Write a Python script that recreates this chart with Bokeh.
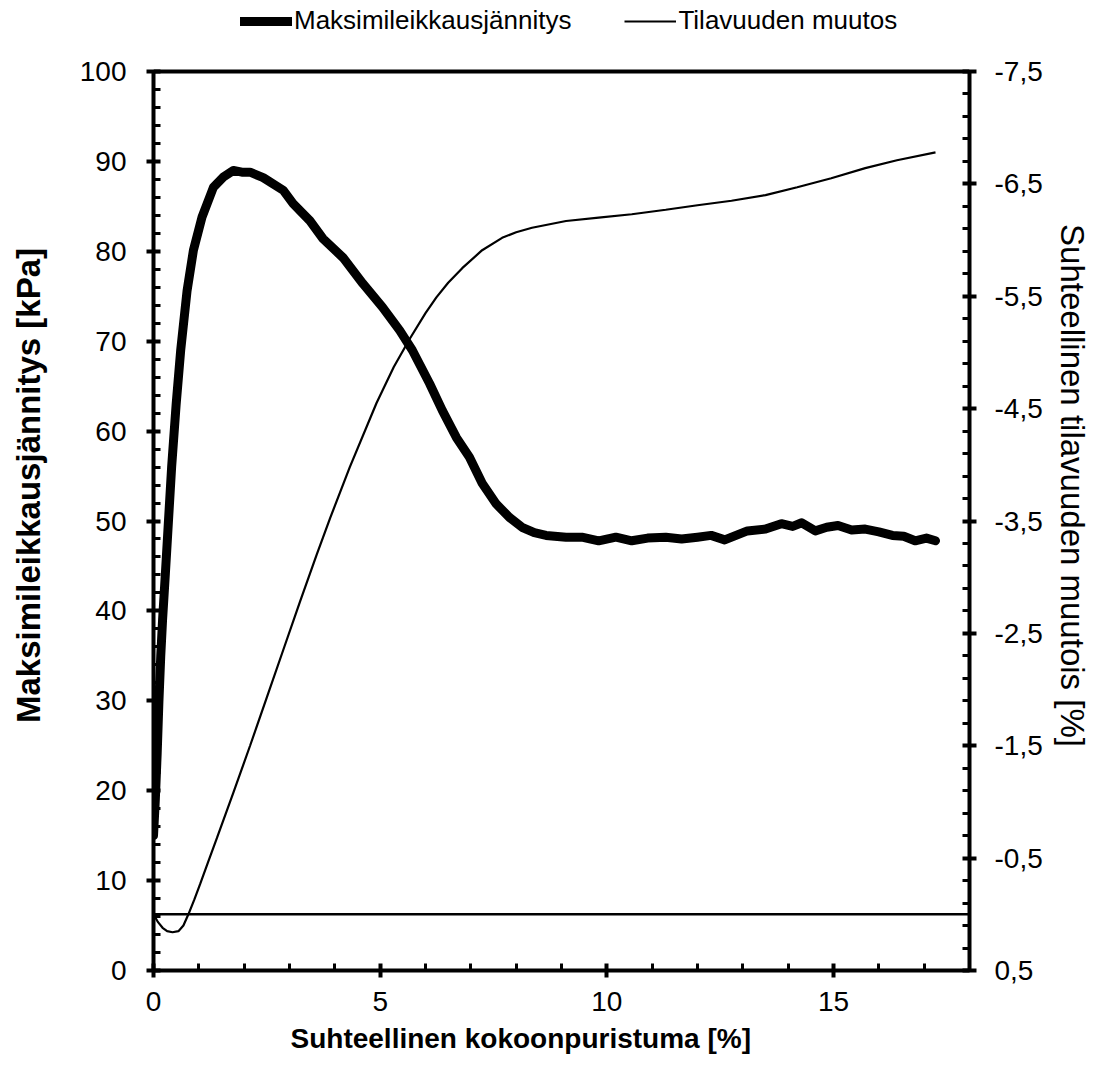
from bokeh.plotting import figure
from bokeh.models import (Range1d, LinearAxis, FixedTicker, CustomJSTickFormatter,
                          Legend, LegendItem, Span, Title)
from bokeh.embed import file_html
from bokeh.resources import INLINE

# ---- data ----
strain_stress = [0.0, 0.04, 0.08, 0.12, 0.16, 0.2, 0.26, 0.33, 0.4, 0.5, 0.6, 0.74, 0.88,
                 1.07, 1.32, 1.55, 1.76, 1.95, 2.13, 2.42, 2.86, 3.08, 3.45, 3.74, 4.18,
                 4.62, 5.05, 5.43, 5.71, 6.09, 6.37, 6.68, 6.97, 7.25, 7.56, 7.85, 8.13,
                 8.4, 8.66, 9.1, 9.45, 9.82, 10.2, 10.55, 10.9, 11.3, 11.65, 12.0, 12.3,
                 12.6, 13.1, 13.5, 13.85, 14.1, 14.3, 14.6, 14.85, 15.1, 15.4, 15.7, 16.0,
                 16.3, 16.55, 16.8, 17.05, 17.25]
stress = [15, 19, 24, 30, 35, 39, 44, 50, 56, 63, 69, 75.6, 80.1,
          83.8, 87.1, 88.3, 89.0, 88.8, 88.8, 88.2, 86.8, 85.3, 83.4, 81.4, 79.3,
          76.4, 73.8, 71.2, 69.0, 65.3, 62.3, 59.3, 57.1, 54.2, 51.9, 50.4, 49.3,
          48.7, 48.4, 48.2, 48.2, 47.8, 48.2, 47.8, 48.1, 48.2, 48.0, 48.2, 48.4,
          47.9, 48.9, 49.1, 49.7, 49.4, 49.8, 48.9, 49.3, 49.5, 49.0, 49.1, 48.8,
          48.4, 48.3, 47.8, 48.1, 47.8]

strain_vol = [0.0, 0.1, 0.2, 0.3, 0.42, 0.55, 0.66, 0.77, 0.9, 1.03, 1.2, 1.4, 1.76,
              2.13, 2.5, 2.86, 3.23, 3.6, 3.9, 4.33, 4.92, 5.3, 5.65, 6.0, 6.24, 6.5,
              6.81, 7.25, 7.69, 8.0, 8.35, 9.1, 9.82, 10.55, 11.3, 12.0, 12.75, 13.5,
              14.2, 14.95, 15.7, 16.4, 17.25]
vol_change = [0.0, 0.07, 0.12, 0.15, 0.16, 0.15, 0.1, 0.0, -0.13, -0.27, -0.46, -0.68, -1.08,
              -1.5, -1.93, -2.35, -2.78, -3.2, -3.53, -3.98, -4.55, -4.87, -5.12, -5.35, -5.49, -5.62,
              -5.75, -5.91, -6.02, -6.07, -6.11, -6.17, -6.2, -6.23, -6.27, -6.31, -6.35, -6.40,
              -6.47, -6.55, -6.64, -6.71, -6.78]

x_major = [0, 5, 10, 15]
x_minor = [1, 2, 3, 4, 6, 7, 8, 9, 11, 12, 13, 14, 16, 17, 18]
y_major = [0, 10, 20, 30, 40, 50, 60, 70, 80, 90, 100]
y_minor = [v for v in range(0, 101, 2) if v % 10 != 0]
y2_major = [0.5, -0.5, -1.5, -2.5, -3.5, -4.5, -5.5, -6.5, -7.5]
y2_minor = [round(-7.5 + 0.2 * i, 1) for i in range(41) if i % 5 != 0]

series_names = ["Maksimileikkausjännitys", "Tilavuuden muutos"]
x_title = "Suhteellinen kokoonpuristuma [%]"
y_title = "Maksimileikkausjännitys [kPa]"
y2_title = "Suhteellinen tilavuuden muutois [%]"

FONT = "Liberation Sans"
TICK_FS = "28px"

# The plot frame reaches the top of the page so that the legend (drawn inside the frame)
# can sit above the chart's top border; axes are bounded to the chart's own extent.
Y_TOP = 107.9          # 0..100 spans the chart, the rest is headroom for the legend
V_TOP = 0.5 - Y_TOP * 0.08

p = figure(width=1093, height=1072, output_backend="svg", toolbar_location=None,
           x_range=Range1d(0, 18), y_range=Range1d(0, Y_TOP),
           min_border_left=153, min_border_right=121, min_border_top=0, min_border_bottom=102)
p.extra_y_ranges = {"vol": Range1d(0.5, V_TOP)}
p.grid.visible = False
p.outline_line_color = None
p.background_fill_color = "white"
p.border_fill_color = "white"

def style_axis(ax, major, minor):
    ax.ticker = FixedTicker(ticks=major, minor_ticks=minor)
    ax.axis_line_width = 4
    ax.axis_line_color = "black"
    ax.major_tick_line_width = 4
    ax.major_tick_line_color = "black"
    ax.major_tick_in = 7
    ax.major_tick_out = 7
    ax.minor_tick_line_width = 3
    ax.minor_tick_line_color = "black"
    ax.minor_tick_in = 7
    ax.minor_tick_out = 0
    ax.major_label_text_font = FONT
    ax.major_label_text_font_size = TICK_FS
    ax.major_label_text_color = "black"
    ax.axis_label_text_font = FONT
    ax.axis_label_text_color = "black"

xa = p.xaxis[0]
style_axis(xa, x_major, x_minor)
xa.major_label_standoff = 14

ya = p.yaxis[0]
style_axis(ya, y_major, y_minor)
ya.bounds = (0, 100)
ya.major_label_standoff = 20
ya.axis_label = y_title
ya.axis_label_text_font_size = "33px"
ya.axis_label_text_font_style = "bold"
ya.axis_label_standoff = 30

y2 = LinearAxis(y_range_name="vol")
style_axis(y2, y2_major, y2_minor)
y2.bounds = (-7.5, 0.5)
y2.formatter = CustomJSTickFormatter(code="return tick.toFixed(1).replace('.', ',')")
y2.major_label_standoff = 18
y2.axis_label = y2_title
y2.axis_label_text_font_size = "33px"
y2.axis_label_text_font_style = "normal"
y2.axis_label_standoff = 8
p.add_layout(y2, "right")

# x title below the axis, placed like in the reference
x_t = Title(text=x_title, align="left", offset=137, text_font=FONT, text_font_size="28px",
            text_font_style="bold", text_color="black", standoff=14, vertical_align="bottom")
p.add_layout(x_t, "below")

# top border of the chart and the zero line of the volume-change axis
p.add_layout(Span(location=100, dimension="width", line_color="black", line_width=4))
p.add_layout(Span(location=0, dimension="width", y_range_name="vol",
                  line_color="black", line_width=2.5))

r_stress = p.line(strain_stress, stress, line_color="black", line_width=9,
                  line_join="round", line_cap="round")
r_vol = p.line(strain_vol, vol_change, y_range_name="vol", line_color="black",
               line_width=2.2)

legend = Legend(items=[LegendItem(label=series_names[0], renderers=[r_stress]),
                       LegendItem(label=series_names[1], renderers=[r_vol])],
                location=(87, 934), orientation="horizontal",
                label_text_font=FONT, label_text_font_size="26px", label_text_color="black",
                glyph_width=52, glyph_height=22, spacing=53, padding=0, margin=0,
                label_standoff=2, border_line_color=None, background_fill_alpha=0)
p.add_layout(legend, "center")

open("out.html", "w").write(file_html(p, INLINE))
